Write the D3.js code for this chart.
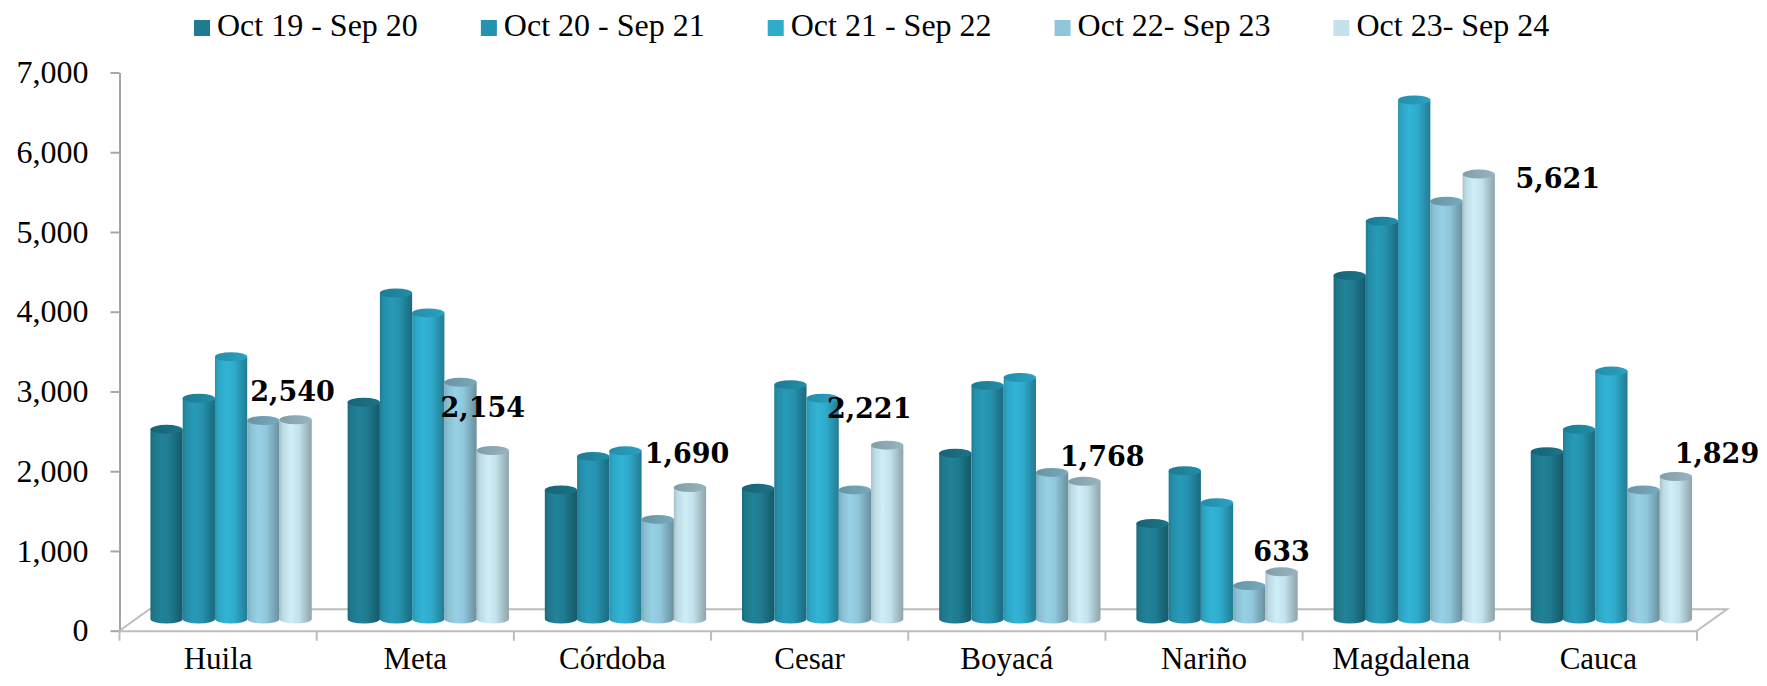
<!DOCTYPE html>
<html>
<head>
<meta charset="utf-8">
<script src="https://cdn.jsdelivr.net/npm/d3@7"></script>
<style>
  html, body { margin: 0; padding: 0; background: #ffffff; }
  svg { display: block; }
</style>
</head>
<body>
<svg id="chart" width="1767" height="686"></svg>
<script>
// Coffee-growing departments, five harvest years each
const categories = ["Huila", "Meta", "Córdoba", "Cesar", "Boyacá", "Nariño", "Magdalena", "Cauca"];
const seriesNames = ["Oct 19 - Sep 20", "Oct 20 - Sep 21", "Oct 21 - Sep 22", "Oct 22- Sep 23", "Oct 23- Sep 24"];
const oct19sep20 = [2420, 2760, 1660, 1680, 2120, 1240, 4350, 2140];
const oct20sep21 = [2810, 4130, 2080, 2980, 2970, 1900, 5030, 2420];
const oct21sep22 = [3330, 3880, 2150, 2810, 3070, 1500, 6550, 3150];
const oct22sep23 = [2530, 3010, 1290, 1660, 1880, 460, 5280, 1660];
const oct23sep24 = [2540, 2154, 1690, 2221, 1768, 633, 5621, 1829];
const yTickValues = [0, 1000, 2000, 3000, 4000, 5000, 6000, 7000];

const seriesValues = [oct19sep20, oct20sep21, oct21sep22, oct22sep23, oct23sep24];
const bodyColors = ["#1f7b90", "#2592ae", "#2fabcc", "#8fc6da", "#c3e2eb"];
const capColors  = ["#1a6b7e", "#1f849e", "#2797b5", "#6f9fb1", "#8ca9b4"];

const svg = d3.select("#chart");
const regular = "'Liberation Serif', 'DejaVu Serif', serif";
const boldFace = "'DejaVu Serif', 'Liberation Serif', serif";

// plot frame: front edge of the floor and the 3D depth offset
const left = 119.5, right = 1697, floorY = 630.7;
const depthX = 30, depthY = -21.4;
const midDepthX = 13, midDepthY = -8.4;

const x = d3.scaleBand().domain(categories).range([left, right]);
const y = d3.scaleLinear().domain([0, 7000]).range([floorY, 72.5]);
const groupWidth = x.step() * 0.818;
const xs = d3.scaleBand().domain(d3.range(seriesNames.length)).range([0, groupWidth]);

// gradients giving each column its cylindrical shading
const defs = svg.append("defs");
bodyColors.forEach((c, i) => {
  const base = d3.color(c);
  const g = defs.append("linearGradient").attr("id", "body" + i)
    .attr("x1", "0%").attr("x2", "100%").attr("y1", "0%").attr("y2", "0%");
  [[0, base.darker(0.45)], [0.1, base.darker(0.1)], [0.35, base.brighter(0.15)],
   [0.6, base], [0.85, base.darker(0.55)], [1, base.darker(0.9)]]
    .forEach(([o, col]) => g.append("stop").attr("offset", o).attr("stop-color", col));
  const t = d3.color(capColors[i]);
  const gc = defs.append("linearGradient").attr("id", "cap" + i)
    .attr("x1", "0%").attr("x2", "100%").attr("y1", "0%").attr("y2", "0%");
  [[0, t.darker(0.2)], [0.5, t], [1, t.brighter(0.2)]]
    .forEach(([o, col]) => gc.append("stop").attr("offset", o).attr("stop-color", col));
});

// floor outline
const floor = svg.append("g").attr("fill", "none").attr("stroke", "#bdbdbd").attr("stroke-width", 2);
floor.append("path").attr("d", `M${left},${floorY} L${left + depthX},${floorY + depthY} L${right + depthX},${floorY + depthY} L${right},${floorY}`);

// columns
const rx = xs.bandwidth() / 2, ry = 4.5;
const baseY = floorY + midDepthY - 3.3;
const groups = svg.append("g").selectAll("g").data(categories).join("g")
  .attr("transform", c => `translate(${x(c) + (x.step() - groupWidth) / 2 + midDepthX},0)`);

groups.each(function (c, ci) {
  const g = d3.select(this);
  seriesValues.forEach((vals, si) => {
    const cx = xs(si) + rx;
    const top = y(vals[ci]) + midDepthY;
    g.append("path")
      .attr("d", `M${cx - rx},${top} L${cx - rx},${baseY} A${rx},${ry} 0 0 0 ${cx + rx},${baseY} L${cx + rx},${top} Z`)
      .attr("fill", `url(#body${si})`);
    g.append("ellipse").attr("cx", cx).attr("cy", top).attr("rx", rx).attr("ry", ry)
      .attr("fill", `url(#cap${si})`);
  });
});

// value labels for the latest season
const labelNudge = [[-3, -19], [-10, -34], [-3, -25], [-18, -27], [18, -15], [0, -11], [79, 14], [41, -13]];
const last = seriesValues.length - 1;
svg.append("g").selectAll("text").data(categories).join("text")
  .attr("x", (c, i) => x(c) + (x.step() - groupWidth) / 2 + midDepthX + xs(last) + rx + labelNudge[i][0])
  .attr("y", (c, i) => y(oct23sep24[i]) + midDepthY + labelNudge[i][1])
  .attr("text-anchor", "middle")
  .attr("font-family", boldFace).attr("font-weight", "bold").attr("font-size", 27)
  .attr("fill", "#000")
  .text((c, i) => d3.format(",")(oct23sep24[i]));

// value axis
const yAxis = svg.append("g").attr("transform", `translate(${left},0)`)
  .call(d3.axisLeft(y).tickValues(yTickValues).tickFormat(d3.format(",")).tickSize(9).tickSizeOuter(0).tickPadding(22));
yAxis.select(".domain").attr("stroke", "#a6a6a6").attr("stroke-width", 2);
yAxis.selectAll(".tick line").attr("stroke", "#a6a6a6").attr("stroke-width", 2);
yAxis.selectAll(".tick text").attr("font-family", regular).attr("font-size", 32).attr("fill", "#000");

// category axis
const xAxis = svg.append("g").attr("transform", `translate(0,${floorY})`)
  .call(d3.axisBottom(x).tickSize(0).tickPadding(38).tickSizeOuter(0));
xAxis.select(".domain").attr("stroke", "#bdbdbd").attr("stroke-width", 2);
xAxis.selectAll(".tick text").attr("font-family", regular).attr("font-size", 31).attr("fill", "#000").attr("dy", "0");
xAxis.selectAll(".sep").data(d3.range(categories.length + 1)).join("line")
  .attr("class", "sep")
  .attr("x1", i => left + i * x.step()).attr("x2", i => left + i * x.step())
  .attr("y1", 0).attr("y2", 10).attr("stroke", "#bdbdbd").attr("stroke-width", 2);

// legend
const legend = svg.append("g").attr("transform", "translate(194,0)");
let lx = 0;
seriesNames.forEach((name, i) => {
  const item = legend.append("g").attr("transform", `translate(${lx},0)`);
  item.append("rect").attr("x", 0).attr("y", 20).attr("width", 16).attr("height", 16).attr("fill", bodyColors[i]);
  const t = item.append("text").attr("x", 23).attr("y", 36)
    .attr("font-family", regular).attr("font-size", 32).attr("fill", "#000").text(name);
  lx += 23 + t.node().getComputedTextLength() + 63;
});
</script>
</body>
</html>
